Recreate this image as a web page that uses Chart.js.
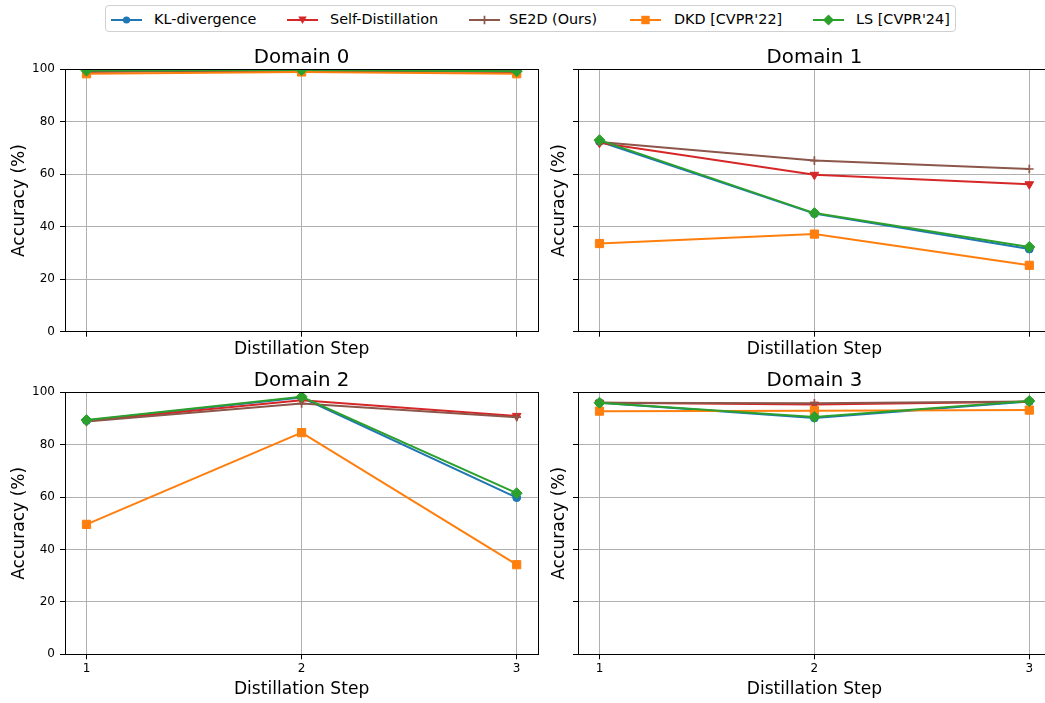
<!DOCTYPE html>
<html>
<head>
<meta charset="utf-8">
<script src="https://cdn.jsdelivr.net/npm/chart.js@4.4.1/dist/chart.umd.min.js"></script>
<style>
body{margin:0;background:#fff;overflow:hidden;width:1045px;height:703px;position:relative;font-family:"DejaVu Sans",sans-serif;}
canvas{position:absolute;}
#legend{position:absolute;left:105px;top:5px;width:851px;height:27px;border:1px solid #d0d0d0;border-radius:4px;box-sizing:border-box;background:#fff;}
.lh{position:absolute;top:6px;}
.lt{position:absolute;top:4.5px;font-size:14.4px;line-height:16px;color:#000;white-space:nowrap;}
</style>
</head>
<body>
<div id="legend"></div>
<canvas id="c0" width="545" height="320"></canvas>
<canvas id="c1" width="518" height="320"></canvas>
<canvas id="c2" width="545" height="338"></canvas>
<canvas id="c3" width="518" height="338"></canvas>
<script>
const steps = [1, 2, 3];
const yTicks = [0, 20, 40, 60, 80, 100];
const domainNames = ["Domain 0", "Domain 1", "Domain 2", "Domain 3"];
const methodNames = ["KL-divergence", "Self-Distillation", "SE2D (Ours)", "DKD [CVPR'22]", "LS [CVPR'24]"];

// accuracy (%) per domain, values at distillation step 1..3
const klDivergence     = [[99.3, 99.6, 99.2], [72.5, 45.0, 31.5], [89.2, 98.0, 59.8], [96.0, 90.2, 96.5]];
const selfDistillation = [[99.1, 99.5, 99.0], [72.0, 59.8, 56.2], [89.0, 97.0, 91.0], [96.0, 95.3, 96.4]];
const se2d             = [[99.2, 99.6, 99.3], [72.3, 65.2, 62.0], [88.9, 95.7, 90.5], [96.0, 95.8, 96.5]];
const dkd              = [[98.3, 99.0, 98.3], [33.6, 37.2, 25.3], [49.6, 84.6, 34.2], [92.8, 93.0, 93.2]];
const ls               = [[99.5, 99.7, 99.3], [73.0, 45.2, 32.3], [89.4, 98.3, 61.5], [96.0, 90.6, 96.7]];

const series = [klDivergence, selfDistillation, se2d, dkd, ls];

const styles = [
  {color:"#1f77b4", point:"circle",   r:4,   rot:0,   bw:1},
  {color:"#d62728", point:"triangle", r:5,   rot:180, bw:1},
  {color:"#8c564b", point:"cross",    r:4.3, rot:0,   bw:1.7},
  {color:"#ff7f0e", point:"rect",     r:5.8, rot:0,   bw:1},
  {color:"#2ca02c", point:"rectRot",  r:5.5, rot:0,   bw:1}
];

Chart.defaults.font.family = "DejaVu Sans";
Chart.defaults.color = "#000";

/* legend (html) */
const legendPos = [[5, 48], [181, 224], [363, 403], [524, 568], [707, 750]];
const legend = document.getElementById("legend");
function markerSvg(st){
  const c = st.color, x = 15.5, y = 7;
  let m = "";
  if(st.point == "circle") m = `<circle cx="${x}" cy="${y}" r="3.6" fill="${c}"/>`;
  if(st.point == "triangle") m = `<polygon points="${x-4.2},${y-3.5} ${x+4.2},${y-3.5} ${x},${y+4}" fill="${c}"/>`;
  if(st.point == "cross") m = `<path d="M${x-4.2} ${y}H${x+4.2}M${x} ${y-4.2}V${y+4.2}" stroke="${c}" stroke-width="1.7"/>`;
  if(st.point == "rect") m = `<rect x="${x-4.2}" y="${y-4.2}" width="8.4" height="8.4" fill="${c}"/>`;
  if(st.point == "rectRot") m = `<polygon points="${x-5.5},${y} ${x},${y-5.5} ${x+5.5},${y} ${x},${y+5.5}" fill="${c}"/>`;
  return `<svg width="31" height="14" viewBox="0 0 31 14"><line x1="0" y1="7" x2="31" y2="7" stroke="${c}" stroke-width="2"/>${m}</svg>`;
}
methodNames.forEach((name, i)=>{
  legend.innerHTML += `<div class="lh" style="left:${legendPos[i][0]}px">${markerSvg(styles[i])}</div>` +
    `<div class="lt" style="left:${legendPos[i][1]}px">${name}</div>`;
});

/* frame around every axes + title centred on the axes */
const frame = {
  id:"frame",
  afterDraw(chart, args, opts){
    const a = chart.chartArea, ctx = chart.ctx;
    const al = v => Math.round(v - 0.5) + 0.5;
    ctx.save();
    ctx.strokeStyle = "#000";
    ctx.lineWidth = 1;
    ctx.strokeRect(al(a.left), al(a.top), al(a.right) - al(a.left), al(a.bottom) - al(a.top));
    ctx.fillStyle = "#000";
    ctx.font = "19.8px 'DejaVu Sans'";
    ctx.textAlign = "center";
    ctx.textBaseline = "alphabetic";
    ctx.fillText(opts.text, (a.left + a.right) / 2, a.top - 6.3);
    ctx.restore();
  }
};

const panels = [
  {id:"c0", left:0,   top:45,  w:545, yw:65, xh:33.3, xLabels:false, yLabels:true,  padTop:24.3, xtPad:5.0, ytPad:9.3},
  {id:"c1", left:540, top:45,  w:518, yw:38, xh:33.3, xLabels:false, yLabels:false, padTop:24.3, xtPad:5.0, ytPad:9.8},
  {id:"c2", left:0,   top:365, w:545, yw:65, xh:48.7, xLabels:true,  yLabels:true,  padTop:27.3, xtPad:2.7, ytPad:9.3},
  {id:"c3", left:540, top:365, w:518, yw:38, xh:48.7, xLabels:true,  yLabels:false, padTop:27.3, xtPad:2.7, ytPad:9.8}
];
const plotRight = [538.3, 1050.8];

panels.forEach((p, d)=>{
  const cv = document.getElementById(p.id);
  cv.style.left = p.left + "px";
  cv.style.top = p.top + "px";

  const datasets = series.map((s, i)=>({
    label: methodNames[i],
    data: steps.map((x, j)=>({x:x, y:s[d][j]})),
    borderColor: styles[i].color,
    backgroundColor: styles[i].color,
    borderWidth: 2,
    pointStyle: styles[i].point,
    pointRadius: styles[i].r,
    pointRotation: styles[i].rot,
    pointBorderWidth: styles[i].bw,
    pointBackgroundColor: styles[i].color,
    pointBorderColor: styles[i].color,
    order: series.length - i,
    clip: 0,
    tension: 0
  }));

  new Chart(cv, {
    type: "line",
    data: {datasets: datasets},
    plugins: [frame],
    options: {
      responsive: false,
      animation: false,
      events: [],
      layout: {padding: {left:0, right: p.w - (plotRight[d % 2] - p.left), top:p.padTop, bottom:0}},
      plugins: {
        legend: {display:false},
        tooltip: {enabled:false},
        frame: {text: domainNames[d]}
      },
      scales: {
        x: {
          type: "linear",
          min: 0.9,
          max: 3.1,
          afterBuildTicks: ax => { ax.ticks = steps.map(v=>({value:v})); },
          afterFit: ax => { ax.height = p.xh; },
          ticks: {display:true, color:"#000", font:{size:12}, padding:2.5, maxRotation:0,
            callback: v => p.xLabels ? String(v) : ""},
          grid: {color:"#b0b0b0", lineWidth:1, tickColor:"#000", tickLength:5, tickWidth:1},
          border: {display:false},
          title: {display:true, text:"Distillation Step", color:"#000", font:{size:17.1}, padding:{top:0, bottom:p.xtPad}}
        },
        y: {
          min: 0,
          max: 100,
          afterBuildTicks: ax => { ax.ticks = yTicks.map(v=>({value:v})); },
          afterFit: ax => { ax.width = p.yw; },
          ticks: {color:"#000", font:{size:12}, padding:5,
            callback: v => p.yLabels ? String(v) : ""},
          grid: {color:"#b0b0b0", lineWidth:1, tickColor:"#000", tickLength:5, tickWidth:1},
          border: {display:false},
          title: {display:true, text:"Accuracy (%)", color:"#000", font:{size:17.1}, padding:{top:p.ytPad, bottom:0}}
        }
      }
    }
  });
});
</script>
</body>
</html>
